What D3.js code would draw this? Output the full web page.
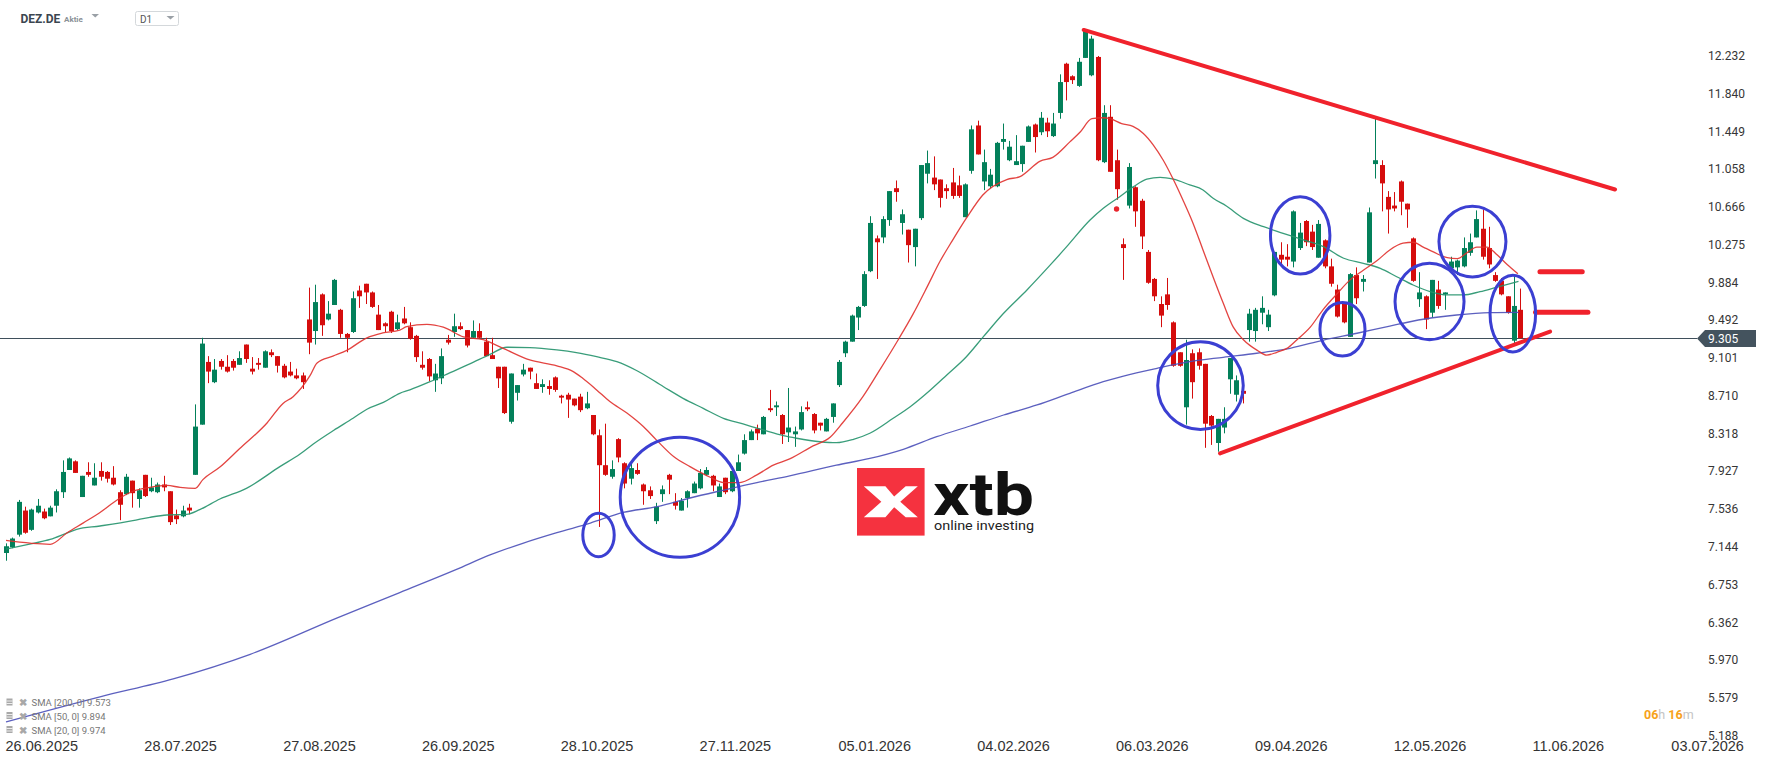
<!DOCTYPE html>
<html>
<head>
<meta charset="utf-8">
<script src="https://cdnjs.cloudflare.com/ajax/libs/d3/7.8.5/d3.min.js"></script>
<style>
html, body { margin: 0; padding: 0; background: #fff; }
svg { display: block; }
</style>
</head>
<body>
<div id="graphic"></div>
<script>
// DEZ.DE daily candles (index 0 = 26.06.2025)
var opens = [
 7.08,7.14,7.27,7.52,7.32,7.50,7.51,7.46,7.57,7.71,
 7.94,8.03,7.66,7.92,7.78,7.93,7.92,7.86,7.71,7.69,
 7.83,7.64,7.89,7.72,7.71,7.79,7.72,7.47,7.46,7.55,
 7.89,8.41,9.06,8.85,9.07,9.01,9.07,9.03,9.24,8.99,
 9.05,9.00,9.16,9.12,9.02,8.96,8.92,8.92,9.50,9.38,
 9.76,9.50,9.65,9.60,9.35,9.37,9.80,9.87,9.78,9.55,
 9.46,9.58,9.40,9.51,9.42,9.33,9.03,9.09,8.87,8.89,
 9.29,9.37,9.43,9.39,9.31,9.38,9.27,9.13,9.01,9.01,
 8.44,8.74,8.93,9.00,8.84,8.80,8.81,8.90,8.71,8.72,
 8.68,8.70,8.58,8.51,8.30,7.99,7.87,8.26,8.01,7.85,
 7.94,7.79,7.73,7.41,7.69,7.89,7.61,7.52,7.65,7.70,
 7.75,7.89,7.88,7.66,7.86,7.72,7.93,8.11,8.25,8.37,
 8.31,8.58,8.59,8.51,8.33,8.31,8.36,8.59,8.52,8.43,
 8.34,8.49,8.82,9.15,9.27,9.52,9.64,10.00,10.34,10.35,
 10.53,10.86,10.50,10.43,10.25,10.55,11.01,10.97,10.95,10.86,
 10.92,10.89,10.56,11.04,11.51,10.93,10.88,10.88,11.34,11.15,
 11.10,11.11,11.34,11.52,11.44,11.54,11.40,11.64,12.15,12.02,
 11.92,12.21,12.03,12.22,11.13,11.60,11.15,10.28,10.68,10.87,
 10.73,10.20,9.92,9.66,9.76,9.47,9.16,8.59,9.15,9.16,
 9.04,8.50,8.22,8.38,8.88,8.72,8.76,9.39,9.38,9.57,
 9.42,9.75,10.17,10.15,10.10,10.24,10.52,10.41,10.14,10.32,
 10.05,9.81,9.67,9.32,9.96,9.89,10.09,11.11,11.10,10.77,
 10.68,10.93,10.70,10.34,9.71,9.74,9.57,9.81,9.76,10.03,
 10.04,10.05,10.19,10.35,10.44,10.24,9.96,9.90,9.74,9.28,
 9.60];
var highs = [
 7.18,7.24,7.63,7.56,7.54,7.64,7.54,7.57,7.74,8.04,
 8.07,8.04,7.88,8.02,8.01,8.02,7.93,7.98,7.73,7.90,
 7.83,7.75,7.89,7.86,7.81,7.88,7.72,7.53,7.57,7.59,
 8.62,9.31,9.12,9.09,9.09,9.13,9.09,9.17,9.24,9.11,
 9.10,9.18,9.19,9.12,9.04,9.06,8.99,8.95,9.83,9.86,
 9.77,9.69,9.92,9.61,9.36,9.79,9.85,9.87,9.79,9.65,
 9.47,9.59,9.55,9.63,9.47,9.34,9.17,9.10,9.04,9.20,
 9.34,9.56,9.47,9.39,9.49,9.46,9.31,9.31,9.01,9.01,
 8.94,8.82,9.04,9.00,8.94,8.88,8.87,8.91,8.72,8.74,
 8.68,8.73,8.75,8.51,8.36,8.42,8.04,8.27,8.02,8.01,
 8.01,7.80,7.77,7.60,7.78,7.90,7.70,7.65,7.73,7.82,
 7.95,7.97,7.89,7.80,7.86,7.98,8.10,8.31,8.36,8.41,
 8.50,8.77,8.65,8.52,8.79,8.39,8.60,8.65,8.53,8.43,
 8.48,8.63,9.08,9.28,9.55,9.64,10.00,10.57,10.37,10.57,
 10.83,10.94,10.64,10.43,10.44,11.10,11.25,11.19,10.95,10.90,
 11.07,10.99,10.91,11.51,11.56,11.26,11.06,11.34,11.53,11.35,
 11.41,11.30,11.51,11.53,11.65,11.59,11.64,12.04,12.16,12.03,
 12.21,12.51,12.44,12.23,11.72,11.72,11.26,10.34,11.12,10.88,
 10.75,10.22,9.93,9.74,9.93,9.48,9.16,9.29,9.19,9.20,
 9.04,8.51,8.47,8.59,9.10,8.92,8.84,9.61,9.62,9.74,
 9.60,10.20,10.30,10.28,10.63,10.50,10.53,10.48,10.53,10.33,
 10.13,9.86,9.67,9.98,10.04,9.96,10.66,11.59,11.15,10.83,
 10.82,10.94,10.70,10.35,9.99,9.75,9.91,9.90,9.78,10.15,
 10.12,10.35,10.39,10.63,10.64,10.46,9.99,9.93,9.74,9.96,
 9.82];
var lows = [
 7.00,7.13,7.25,7.28,7.31,7.49,7.43,7.46,7.50,7.65,
 7.94,7.91,7.66,7.87,7.78,7.83,7.81,7.78,7.42,7.68,
 7.55,7.55,7.66,7.71,7.70,7.72,7.37,7.38,7.45,7.48,
 7.89,8.41,8.84,8.84,8.98,8.95,8.97,9.03,9.05,8.93,
 8.98,9.00,9.11,8.95,8.89,8.91,8.88,8.78,9.14,9.24,
 9.33,9.49,9.65,9.31,9.16,9.36,9.62,9.66,9.62,9.39,
 9.37,9.36,9.39,9.45,9.29,9.06,8.98,8.86,8.75,8.83,
 9.24,9.32,9.39,9.21,9.31,9.30,9.12,9.09,8.79,8.52,
 8.42,8.66,8.91,8.88,8.78,8.74,8.72,8.75,8.63,8.48,
 8.60,8.54,8.57,8.30,7.35,7.88,7.85,8.02,7.75,7.79,
 7.89,7.58,7.64,7.38,7.61,7.69,7.53,7.52,7.55,7.70,
 7.74,7.88,7.72,7.66,7.69,7.71,7.93,8.10,8.25,8.25,
 8.31,8.54,8.50,8.21,8.23,8.18,8.35,8.55,8.32,8.35,
 8.34,8.43,8.80,9.11,9.27,9.39,9.63,9.99,9.92,10.29,
 10.47,10.72,10.38,10.09,10.05,10.53,10.91,10.84,10.66,10.75,
 10.75,10.76,10.56,11.01,11.21,10.84,10.86,10.87,11.26,11.14,
 11.10,11.03,11.34,11.23,11.41,11.39,11.39,11.58,11.77,11.94,
 11.91,12.21,12.02,11.14,11.12,11.03,10.74,9.91,10.65,10.46,
 10.23,9.87,9.69,9.42,9.60,9.01,9.01,8.41,8.68,8.98,
 8.17,8.20,8.13,8.32,8.73,8.65,8.63,9.27,9.27,9.45,
 9.38,9.74,10.05,10.05,10.04,10.22,10.26,10.22,10.14,10.03,
 9.84,9.52,9.46,9.32,9.66,9.79,10.09,10.96,10.62,10.39,
 10.62,10.58,10.45,9.89,9.63,9.40,9.52,9.61,9.60,9.98,
 9.96,10.04,10.16,10.35,10.12,10.03,9.89,9.75,9.56,9.25,
 9.30];
var closes = [
 7.15,7.23,7.61,7.29,7.53,7.57,7.44,7.55,7.72,7.92,
 8.06,7.91,7.88,7.89,7.86,7.87,7.85,7.79,7.58,7.87,
 7.70,7.73,7.67,7.76,7.79,7.76,7.40,7.43,7.52,7.52,
 8.39,9.25,8.96,8.98,9.01,8.96,9.00,9.10,9.09,8.96,
 9.03,9.17,9.13,9.02,8.90,8.92,8.89,8.85,9.26,9.68,
 9.44,9.56,9.91,9.35,9.31,9.72,9.74,9.78,9.63,9.39,
 9.43,9.38,9.47,9.46,9.30,9.11,9.00,8.91,8.94,9.12,
 9.26,9.43,9.40,9.23,9.38,9.31,9.12,9.09,8.89,8.53,
 8.94,8.82,8.98,8.96,8.78,8.83,8.78,8.77,8.69,8.67,
 8.61,8.56,8.63,8.31,7.99,7.89,7.95,8.07,7.80,7.96,
 7.90,7.72,7.67,7.56,7.74,7.84,7.57,7.62,7.72,7.80,
 7.91,7.94,7.78,7.77,7.71,7.93,8.02,8.25,8.34,8.32,
 8.49,8.56,8.61,8.31,8.38,8.34,8.54,8.57,8.35,8.40,
 8.47,8.63,9.06,9.27,9.54,9.63,9.97,10.50,10.30,10.54,
 10.83,10.82,10.59,10.27,10.44,11.10,11.12,10.90,10.76,10.83,
 10.78,10.78,10.90,11.47,11.21,11.13,11.00,11.33,11.37,11.29,
 11.14,11.30,11.50,11.39,11.59,11.45,11.53,11.96,11.96,11.98,
 12.17,12.49,12.41,11.15,11.64,11.03,10.85,10.24,11.08,10.62,
 10.36,9.88,9.74,9.54,9.65,9.02,9.02,9.08,8.85,9.02,
 8.42,8.40,8.47,8.47,9.10,8.87,8.73,9.56,9.60,9.62,
 9.55,10.20,10.12,10.12,10.62,10.40,10.30,10.25,10.49,10.05,
 9.87,9.53,9.47,9.97,9.72,9.92,10.61,11.15,10.91,10.64,
 10.65,10.72,10.64,9.90,9.78,9.50,9.91,9.64,9.78,10.10,
 10.11,10.24,10.30,10.54,10.15,10.07,9.90,9.76,9.57,9.64,
 9.305];

// moving averages, sampled as [bar index, value]
var sma20 = [[0,7.21],[7,7.17],[9.7,7.29],[12.2,7.39],[14.9,7.50],[17.6,7.63],[20.1,7.72],[22.8,7.76],[25.5,7.78],[27.6,7.76],[30,7.75],[31.2,7.84],[33.9,7.97],[37,8.16],[41.4,8.43],[43.9,8.63],[45.5,8.70],[48.2,8.92],[49.3,9.05],[51.8,9.12],[54,9.18],[57.2,9.31],[59.7,9.36],[62.4,9.39],[63.5,9.425],[66.7,9.45],[69.3,9.42],[72.5,9.32],[75.6,9.29],[78.8,9.20],[83,9.08],[87.3,9.02],[89.9,8.96],[91.4,8.89],[93.6,8.77],[95.7,8.65],[98.4,8.53],[101,8.39],[103.1,8.25],[105.8,8.08],[108.4,7.975],[111.6,7.865],[113.7,7.81],[116.3,7.81],[119,7.89],[121.6,7.99],[124.2,8.055],[127.9,8.19],[130.6,8.28],[132.6,8.43],[135.8,8.70],[138.5,8.98],[141.4,9.29],[143.7,9.55],[146,9.84],[148,10.10],[150,10.32],[152.3,10.56],[154.8,10.79],[158.6,10.95],[160.7,10.98],[163.9,11.14],[165.9,11.18],[168.6,11.34],[170.2,11.44],[172.1,11.58],[173.9,11.59],[175,11.58],[176.8,11.53],[178.6,11.50],[180.2,11.43],[181.8,11.31],[183.4,11.15],[185,10.95],[186.5,10.74],[188.1,10.50],[189.7,10.22],[191.3,9.94],[192.9,9.67],[194.5,9.42],[196.1,9.29],[198.3,9.18],[199.8,9.13],[201.4,9.16],[203,9.20],[204.6,9.29],[206.7,9.42],[208.7,9.60],[211,9.77],[213,9.91],[215.1,10.01],[217.3,10.11],[219.3,10.22],[221.4,10.29],[223,10.30],[224.6,10.25],[226.2,10.20],[228.4,10.14],[230,10.13],[231.5,10.19],[233.1,10.25],[234.7,10.25],[236.3,10.17],[237.9,10.07],[239.6,9.974]];
var sma50 = [[0,7.12],[4.3,7.18],[7,7.22],[9.6,7.285],[11.2,7.325],[14.9,7.36],[20.1,7.415],[22.8,7.45],[25.5,7.474],[28.6,7.48],[30.7,7.53],[33.9,7.64],[38.1,7.75],[43.4,7.975],[46.6,8.106],[48.7,8.21],[51.9,8.35],[55,8.476],[57.2,8.57],[59.8,8.64],[62.4,8.735],[64,8.77],[67.2,8.855],[70.4,8.949],[73.5,9.039],[76.7,9.139],[79.4,9.212],[83,9.208],[87.3,9.184],[90.4,9.156],[93.6,9.114],[96.8,9.063],[100,8.969],[104.2,8.803],[107.3,8.683],[110.5,8.579],[113.7,8.476],[116.8,8.417],[120,8.355],[123.2,8.296],[125.3,8.269],[129,8.233],[131.6,8.223],[134.3,8.258],[136.9,8.321],[140.6,8.476],[143.3,8.596],[146.5,8.769],[149.1,8.925],[152.2,9.114],[154.9,9.322],[158.1,9.564],[161.8,9.806],[165.5,10.065],[168.1,10.254],[171.8,10.53],[173.9,10.652],[176.5,10.772],[178.7,10.876],[180.8,10.953],[182.9,10.973],[185,10.953],[187.6,10.894],[189.7,10.842],[191.3,10.756],[193.4,10.676],[196.1,10.548],[199.3,10.461],[202.4,10.393],[205.6,10.324],[208.8,10.254],[212,10.134],[215.1,10.082],[217.8,10.03],[220.4,9.943],[223,9.857],[225.7,9.788],[228.3,9.754],[230.9,9.754],[233.6,9.788],[236.2,9.833],[239.7,9.894]];
var sma200 = [[0,5.33],[14.9,5.59],[26.5,5.775],[38.7,6.03],[52.6,6.41],[62.4,6.67],[71.4,6.91],[76.7,7.06],[81.9,7.18],[87.3,7.29],[92.6,7.39],[97.8,7.50],[103.2,7.56],[108.4,7.65],[113.6,7.73],[119,7.81],[124.2,7.88],[131.6,7.99],[136.9,8.06],[142.2,8.155],[147.5,8.285],[152.8,8.396],[158.1,8.51],[163.4,8.614],[168.6,8.735],[173.9,8.855],[177.1,8.914],[182.4,8.994],[187.6,9.063],[192.9,9.108],[198.2,9.15],[203.5,9.201],[208.8,9.287],[214.1,9.357],[219.3,9.432],[224.6,9.502],[229.9,9.546],[235.2,9.57],[239.7,9.573]];

var dateLabels = ["26.06.2025","28.07.2025","27.08.2025","26.09.2025","28.10.2025","27.11.2025","05.01.2026","04.02.2026","06.03.2026","09.04.2026","12.05.2026","11.06.2026","03.07.2026"];
var dateIdx = [0,22,44,66,88,110,132,154,176,198,220,242,264];
var priceLabels = ["12.232","11.840","11.449","11.058","10.666","10.275","9.884","9.492","9.101","8.710","8.318","7.927","7.536","7.144","6.753","6.362","5.970","5.579","5.188"];
var lastPrice = 9.305;
var legendNames = ["SMA [200, 0]","SMA [50, 0]","SMA [20, 0]"];
var legendValues = [9.573, 9.894, 9.974];

// drawn annotations: [index, price] end points, ellipses [index, price, rx bars, ry price]
var trendLines = [[170.8,12.50,255,10.847],[192.4,8.113,244.7,9.375]];
var levelBars = [[243.1,249.8,9.995],[242.4,250.7,9.574]];
var rings = [[93.9,7.266,2.49,0.225],[106.8,7.657,9.46,0.622],[189.3,8.815,6.78,0.454],[205.1,10.371,4.71,0.401],[211.8,9.398,3.57,0.277],[225.6,9.686,5.47,0.396],[232.4,10.307,5.31,0.366],[238.8,9.560,3.61,0.397]];
var dots = [[176,10.645]];

var width = 1768, height = 761;
var upColor = "#03805a", downColor = "#d50d0d";

var svg = d3.select("#graphic").append("svg")
	.attr("width", width)
	.attr("height", height)
	.style("font-family", "Roboto, 'Noto Sans', sans-serif");

svg.append("rect").attr("width", width).attr("height", height).attr("fill", "#fff");

var x = d3.scaleLinear().domain([0, 240]).range([6, 1520.4]);
var y = d3.scaleLinear().domain([5.188, 12.232]).range([735.6, 55.8]);

// xtb watermark
var logo = svg.append("g").attr("class", "logo");
var lx = 857, ly = 468, ls = 67.6;
logo.append("rect").attr("x", lx).attr("y", ly).attr("width", ls).attr("height", ls).attr("fill", "#f5323f");
var xShape = [[0.10,0.27],[0.42,0.27],[0.55,0.42],[0.72,0.27],[0.90,0.27],[0.64,0.50],[0.90,0.73],[0.72,0.73],[0.55,0.58],[0.42,0.73],[0.10,0.73],[0.36,0.50]];
logo.append("path")
	.attr("d", "M" + xShape.map(function(p) { return (lx + p[0] * ls) + "," + (ly + p[1] * ls); }).join("L") + "Z")
	.attr("fill", "#fff");
logo.append("text").attr("x", 933).attr("y", 515)
	.attr("font-size", 60).attr("font-weight", 700).attr("fill", "#111")
	.attr("textLength", 101).attr("lengthAdjust", "spacingAndGlyphs")
	.text("xtb");
logo.append("text").attr("x", 934).attr("y", 530)
	.attr("font-size", 13.5).attr("fill", "#222")
	.attr("textLength", 100).attr("lengthAdjust", "spacingAndGlyphs")
	.text("online investing");

// last price line
var py = Math.round(y(lastPrice)) + 0.5;
svg.append("line")
	.attr("x1", 0).attr("x2", 1697)
	.attr("y1", py).attr("y2", py)
	.attr("stroke", "#3f4f5b").attr("stroke-width", 1.2);

// candles
var candles = d3.range(opens.length).map(function(i) {
	return {i: i, o: opens[i], h: highs[i], l: lows[i], c: closes[i]};
});

var cg = svg.append("g").attr("class", "candles");

cg.selectAll("line")
	.data(candles)
	.enter().append("line")
	.attr("x1", function(d) { return Math.round(x(d.i)) + 0.5; })
	.attr("x2", function(d) { return Math.round(x(d.i)) + 0.5; })
	.attr("y1", function(d) { return y(d.h); })
	.attr("y2", function(d) { return y(d.l); })
	.attr("stroke", function(d) { return d.c >= d.o ? upColor : downColor; })
	.attr("stroke-width", 1);

cg.selectAll("rect")
	.data(candles)
	.enter().append("rect")
	.attr("x", function(d) { return Math.round(x(d.i)) - 2; })
	.attr("width", 5)
	.attr("y", function(d) { return y(Math.max(d.o, d.c)); })
	.attr("height", function(d) { return Math.max(1.2, Math.abs(y(d.o) - y(d.c))); })
	.attr("fill", function(d) { return d.c >= d.o ? upColor : downColor; });

// moving averages
var smaLine = d3.line()
	.x(function(d) { return x(d[0]); })
	.y(function(d) { return y(d[1]); })
	.curve(d3.curveMonotoneX);

[[sma200, "#4a4fb8"], [sma50, "#24926c"], [sma20, "#e0302c"]].forEach(function(s) {
	svg.append("path")
		.datum(s[0])
		.attr("d", smaLine)
		.attr("fill", "none")
		.attr("stroke", s[1])
		.attr("stroke-width", 1.3)
		.attr("stroke-opacity", 0.9);
});

// annotations
var notes = svg.append("g").attr("class", "notes");

notes.selectAll(".trend")
	.data(trendLines)
	.enter().append("line")
	.attr("class", "trend")
	.attr("x1", function(d) { return x(d[0]); })
	.attr("y1", function(d) { return y(d[1]); })
	.attr("x2", function(d) { return x(d[2]); })
	.attr("y2", function(d) { return y(d[3]); })
	.attr("stroke", "#f0222c")
	.attr("stroke-width", 4)
	.attr("stroke-linecap", "round");

notes.selectAll(".level")
	.data(levelBars)
	.enter().append("line")
	.attr("class", "level")
	.attr("x1", function(d) { return x(d[0]); })
	.attr("x2", function(d) { return x(d[1]); })
	.attr("y1", function(d) { return y(d[2]); })
	.attr("y2", function(d) { return y(d[2]); })
	.attr("stroke", "#f0222c")
	.attr("stroke-width", 5)
	.attr("stroke-linecap", "round");

notes.selectAll(".ring")
	.data(rings)
	.enter().append("ellipse")
	.attr("class", "ring")
	.attr("cx", function(d) { return x(d[0]); })
	.attr("cy", function(d) { return y(d[1]); })
	.attr("rx", function(d) { return x(d[2]) - x(0); })
	.attr("ry", function(d) { return y(0) - y(d[3]); })
	.attr("fill", "none")
	.attr("stroke", "#3b3fd2")
	.attr("stroke-width", 3);

notes.selectAll(".dot")
	.data(dots)
	.enter().append("circle")
	.attr("class", "dot")
	.attr("cx", function(d) { return x(d[0]); })
	.attr("cy", function(d) { return y(d[1]); })
	.attr("r", 2.7)
	.attr("fill", "#e8242c");

// price axis
svg.append("g").selectAll("text")
	.data(priceLabels)
	.enter().append("text")
	.attr("x", 1708)
	.attr("y", function(d) { return y(+d) + 4.2; })
	.attr("font-size", 12)
	.attr("fill", "#363636")
	.text(function(d) { return d; });

// last price badge
svg.append("path")
	.attr("d", "M1697," + py + "L1705," + (py - 8.5) + "L1756," + (py - 8.5) + "L1756," + (py + 8.5) + "L1705," + (py + 8.5) + "Z")
	.attr("fill", "#44535e");
svg.append("text")
	.attr("x", 1708).attr("y", py + 4.3)
	.attr("font-size", 12).attr("fill", "#fff")
	.text(lastPrice.toFixed(3));

// date axis
svg.append("g").selectAll("text")
	.data(dateLabels)
	.enter().append("text")
	.attr("x", function(d, k) { return x(dateIdx[k]) - 0.5; })
	.attr("y", 751)
	.attr("font-family", "'Liberation Sans Narrow', 'Liberation Sans', sans-serif")
	.attr("font-size", 14.5)
	.attr("fill", "#333")
	.text(function(d) { return d; });

// countdown
var cd = svg.append("text").attr("x", 1644).attr("y", 718.5).attr("font-size", 12.5).attr("font-weight", 700);
cd.append("tspan").attr("fill", "#f7a21b").text("06");
cd.append("tspan").attr("fill", "#c4c4c4").attr("font-weight", 400).text("h ");
cd.append("tspan").attr("fill", "#f7a21b").text("16");
cd.append("tspan").attr("fill", "#c4c4c4").attr("font-weight", 400).text("m");

// indicator legend
var legend = svg.append("g").selectAll("g")
	.data(legendNames)
	.enter().append("g")
	.attr("transform", function(d, k) { return "translate(0," + [702.5, 716, 730][k] + ")"; });
legend.append("rect").attr("x", 6.5).attr("y", -4).attr("width", 6).attr("height", 7).attr("fill", "#a8a8a8");
legend.append("line").attr("x1", 6.5).attr("x2", 12.5).attr("y1", -1.5).attr("y2", -1.5).attr("stroke", "#fff").attr("stroke-width", 0.8);
legend.append("line").attr("x1", 6.5).attr("x2", 12.5).attr("y1", 1).attr("y2", 1).attr("stroke", "#fff").attr("stroke-width", 0.8);
legend.append("text").attr("x", 19).attr("y", 3.5).attr("font-size", 9.5).attr("font-weight", 700).attr("fill", "#a8a8a8").text("\u2716");
legend.append("text")
	.attr("x", 31.5).attr("y", 3.5)
	.attr("font-size", 9.5).attr("fill", "#777")
	.text(function(d, k) { return d + " " + legendValues[k].toFixed(3); });

// header
var head = svg.append("g");
head.append("text").attr("x", 20.5).attr("y", 22.7).attr("font-size", 12).attr("font-weight", 700).attr("fill", "#3b4650").text("DEZ.DE");
head.append("text").attr("x", 64).attr("y", 22.3).attr("font-size", 8).attr("font-weight", 700).attr("fill", "#8b9197").text("Aktie");
head.append("path").attr("d", "M91.5,14L99,14L95.25,17.5Z").attr("fill", "#9aa0a6");
head.append("rect").attr("x", 135.5).attr("y", 11.5).attr("width", 43).attr("height", 14).attr("rx", 2)
	.attr("fill", "#fff").attr("stroke", "#d4d8db");
head.append("text").attr("x", 140).attr("y", 22.5).attr("font-size", 10).attr("fill", "#555").text("D1");
head.append("path").attr("d", "M166.5,16L174.5,16L170.5,19.5Z").attr("fill", "#9aa0a6");
</script>
</body>
</html>
